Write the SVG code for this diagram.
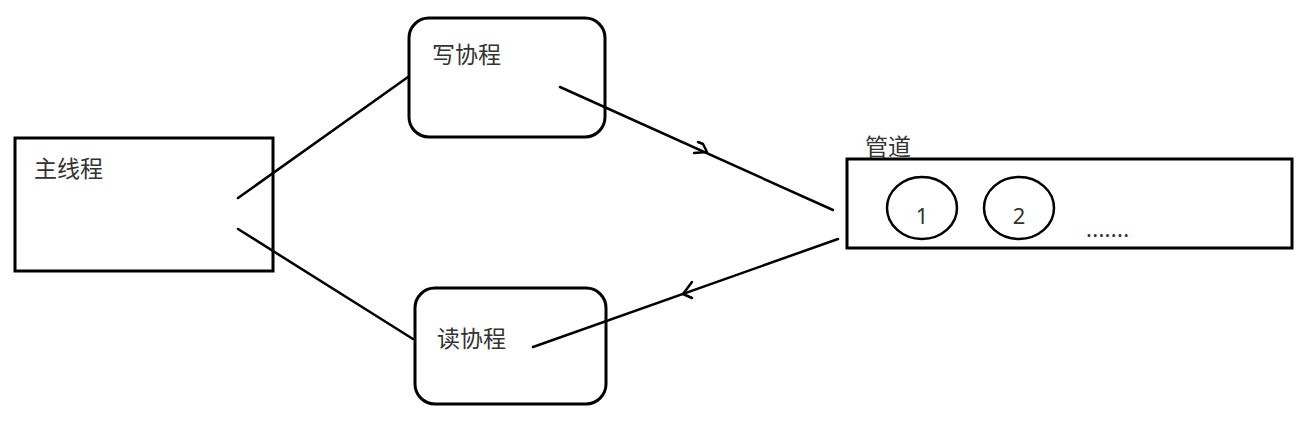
<svg xmlns="http://www.w3.org/2000/svg" width="1309" height="424" viewBox="0 0 1309 424">
<style>
.box{fill:#fff;stroke:#000;stroke-width:3}
.ln{fill:none;stroke:#000;stroke-width:2.5;stroke-linecap:round;stroke-linejoin:round}
.t{font-family:"Noto Sans CJK SC","Noto Sans",sans-serif;font-size:23px;fill:#333}
.n{font-family:"Noto Sans","Liberation Sans",sans-serif;font-size:22px;fill:#333}
</style>
<rect width="1309" height="424" fill="#fff"/>
<g id="main">
<rect class="box" x="15" y="138" width="258" height="133"/>
<text class="t" x="34" y="177">主线程</text>
</g>
<g id="write">
<rect class="box" x="409" y="18" width="196" height="119" rx="20"/>
<text class="t" x="432" y="63">写协程</text>
</g>
<g id="read">
<rect class="box" x="415" y="288" width="191" height="116" rx="20"/>
<text class="t" x="437" y="347">读协程</text>
</g>
<g id="pipe">
<text class="t" x="865" y="155">管道</text>
<rect class="box" x="847" y="159" width="445" height="89"/>
<ellipse cx="922" cy="208" rx="35" ry="31" fill="none" stroke="#000" stroke-width="2.5"/>
<text class="n" x="922" y="224" text-anchor="middle">1</text>
<ellipse cx="1019" cy="208" rx="35" ry="31" fill="none" stroke="#000" stroke-width="2.5"/>
<text class="n" x="1019" y="224" text-anchor="middle">2</text>
<text class="n" x="1086" y="237" letter-spacing="0.3">.......</text>
</g>
<g id="connectors">
<line class="ln" x1="238" y1="198" x2="408" y2="77"/>
<line class="ln" x1="238" y1="229" x2="413" y2="339"/>
<line class="ln" x1="560" y1="87" x2="833" y2="210"/>
<polyline class="ln" points="698,142 703,144 707,152 694,153"/>
<line class="ln" x1="838" y1="239" x2="533" y2="347"/>
<polyline class="ln" points="692,282 683,294 692,298"/>
</g>
</svg>
